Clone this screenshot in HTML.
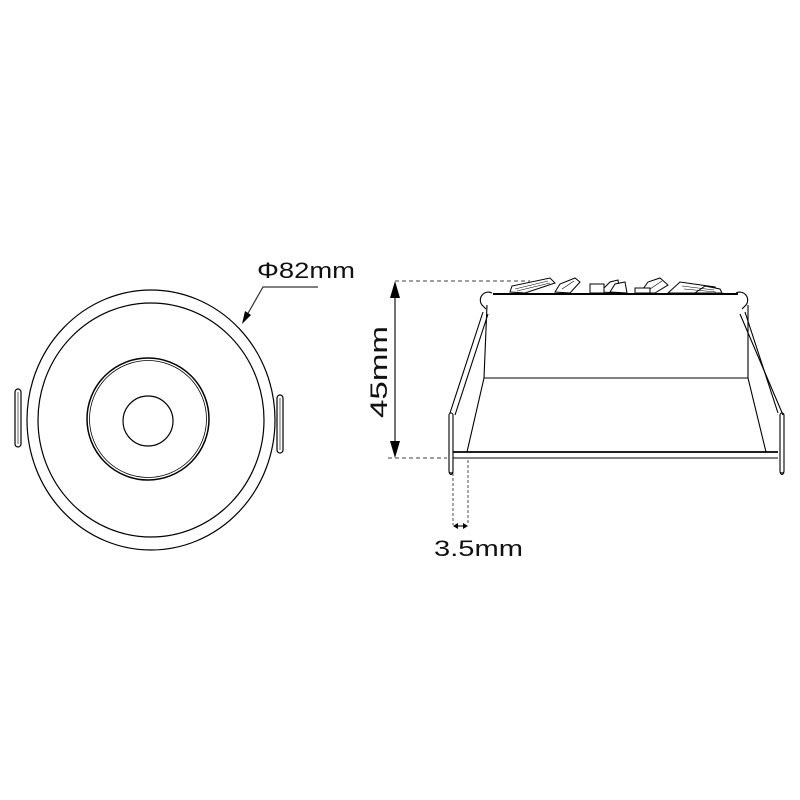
<!DOCTYPE html>
<html><head><style>html,body{margin:0;padding:0;background:#fff}svg{display:block}</style></head><body>
<svg width="800" height="800" viewBox="0 0 800 800" xmlns="http://www.w3.org/2000/svg" font-family="Liberation Sans, sans-serif">
<g fill="none" stroke="#000" stroke-width="1.2">
<ellipse cx="151" cy="420" rx="124" ry="130"/>
<ellipse cx="151" cy="420" rx="113" ry="117"/>
<circle cx="148" cy="419" r="61" stroke-width="1.5"/>
<circle cx="148" cy="419" r="58.5" stroke-width="0.8"/>
<circle cx="148" cy="421" r="25"/>
<rect x="15" y="389" width="6" height="58" rx="3"/>
<line x1="18" y1="392" x2="18" y2="444" stroke-width="0.6"/>
<rect x="277" y="395" width="6" height="58" rx="3"/>
<line x1="280" y1="398" x2="280" y2="450" stroke-width="0.6"/>
<polyline points="243,322 263,287 318,287" stroke="#333"/>
</g>
<polygon points="242,324 245,311 251,315" fill="#000"/>
<text x="257" y="278" font-size="22" fill="#111" textLength="98" lengthAdjust="spacingAndGlyphs">Φ82mm</text>

<g fill="none" stroke="#000" stroke-width="1.1">
<line x1="395" y1="281" x2="530" y2="281" stroke-dasharray="4,3" stroke-width="0.8"/>
<line x1="388" y1="458" x2="447" y2="458" stroke-dasharray="4,3" stroke-width="0.8"/>
<line x1="395" y1="295" x2="395" y2="445"/>
<line x1="493" y1="294" x2="738" y2="294" stroke-width="2"/>
<line x1="487" y1="305" x2="484" y2="378"/>
<line x1="748" y1="305" x2="748" y2="378"/>
<line x1="484" y1="378" x2="748" y2="378"/>
<line x1="484" y1="378" x2="467" y2="452"/>
<line x1="748" y1="378" x2="766" y2="452"/>
<line x1="453" y1="452" x2="778" y2="452" stroke-width="1.8"/>
<line x1="453" y1="458" x2="778" y2="458"/>
<rect x="449" y="413" width="4" height="60" rx="2"/>
<rect x="780" y="413" width="4" height="60" rx="2"/>
<path d="M449,472 q2,5 4,0"/><path d="M780,472 q2,5 4,0"/>
<line x1="483" y1="312" x2="450" y2="413"/><line x1="488" y1="314" x2="455" y2="415"/>
<line x1="745" y1="312" x2="778" y2="413"/><line x1="740" y1="314" x2="783" y2="415"/>
<path d="M492,293 a8,8 0 0 0 -10,12 l4,4"/>
<path d="M736,293 a8,8 0 0 1 10,12 l-4,4"/>
<line x1="453" y1="473" x2="453" y2="525" stroke-dasharray="3,2" stroke-width="0.7"/>
<line x1="468" y1="460" x2="468" y2="525" stroke-dasharray="3,2" stroke-width="0.7"/>
<line x1="455" y1="526" x2="466" y2="526"/>
</g>
<polygon points="395,281 390,298 400,298" fill="#000"/>
<polygon points="395,458 390,441 400,441" fill="#000"/>
<polygon points="453,526 458,523 458,529" fill="#000"/>
<polygon points="468,526 463,523 463,529" fill="#000"/>
<g fill="#fff" stroke="#000" stroke-width="1">
<polygon points="510,292 512,286 550,278 555,283 525,293"/>
<polygon points="555,292 560,284 575,278 580,282 570,293"/>
<polygon points="600,292 610,282 618,280 620,293"/>
<polygon points="610,292 615,284 625,282 627,293"/>
<polygon points="640,293 648,282 660,278 668,285 655,293"/>
<polygon points="668,293 680,282 715,287 718,293"/>
<polygon points="695,293 705,286 720,289 722,293"/>
<rect x="590" y="284" width="14" height="9"/>
<rect x="635" y="288" width="15" height="5"/>
</g>
<g stroke="#000" stroke-width="0.6">
<line x1="515" y1="289" x2="548" y2="281"/><line x1="517" y1="291" x2="550" y2="283"/>
<line x1="562" y1="289" x2="574" y2="281"/><line x1="650" y1="289" x2="662" y2="281"/>
<line x1="682" y1="286" x2="714" y2="290"/><line x1="684" y1="289" x2="716" y2="292"/>
</g>
<text transform="translate(387,372) rotate(-90)" text-anchor="middle" font-size="24" fill="#111" textLength="92" lengthAdjust="spacingAndGlyphs">45mm</text>
<text x="434" y="556" font-size="22" fill="#111" textLength="89" lengthAdjust="spacingAndGlyphs">3.5mm</text>
</svg>
</body></html>
